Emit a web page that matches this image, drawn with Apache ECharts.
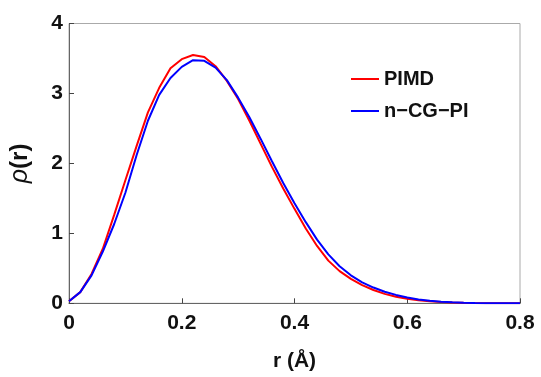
<!DOCTYPE html>
<html>
<head>
<meta charset="utf-8">
<script src="https://cdn.jsdelivr.net/npm/echarts@6/dist/echarts.min.js"></script>
<style>html,body{margin:0;padding:0;background:#fff;}#c{width:541px;height:377px;}</style>
</head>
<body>
<div id="c"></div>
<script>
const rValues = [0,0.02,0.04,0.06,0.08,0.10,0.12,0.14,0.16,0.18,0.20,0.22,0.24,0.26,0.28,0.30,0.32,0.34,0.36,0.38,0.40,0.42,0.44,0.46,0.48,0.50,0.52,0.54,0.56,0.58,0.60,0.62,0.64,0.66,0.68,0.70,0.72,0.74,0.76,0.78,0.80];
const pimd = [0.03,0.16,0.42,0.78,1.26,1.76,2.25,2.73,3.08,3.36,3.49,3.55,3.52,3.39,3.18,2.92,2.61,2.28,1.95,1.64,1.35,1.07,0.82,0.61,0.46,0.35,0.26,0.19,0.135,0.095,0.065,0.043,0.028,0.018,0.011,0.007,0.004,0.002,0.001,0.0004,0.0];
const ncgpi = [0.03,0.16,0.40,0.74,1.13,1.58,2.12,2.61,2.98,3.22,3.38,3.475,3.466,3.37,3.19,2.94,2.66,2.35,2.03,1.72,1.43,1.16,0.91,0.70,0.53,0.40,0.30,0.225,0.165,0.12,0.083,0.055,0.036,0.023,0.014,0.008,0.005,0.0025,0.0012,0.0005,0.0];
const seriesNames = ['PIMD', 'n\u2212CG\u2212PI'];
const xTicks = [0, 0.2, 0.4, 0.6, 0.8];
const yTicks = [0, 1, 2, 3, 4];

const font = 'Liberation Sans, Arial, sans-serif';
const chart = echarts.init(document.getElementById('c'), null, {renderer: 'canvas'});
chart.setOption({
  animation: false,
  backgroundColor: '#fff',
  grid: {left: 67, right: 21, top: 23.5, bottom: 73.7, show: true, borderColor: '#aaaaaa', borderWidth: 1},
  legend: {
    orient: 'vertical', left: 346, top: 64, itemWidth: 28, itemHeight: 14, itemGap: 12,
    icon: 'path://M0,6 L28,6 L28,8 L0,8 Z',
    textStyle: {fontFamily: font, fontWeight: 'bold', fontSize: 20, color: '#111'},
    data: seriesNames
  },
  xAxis: {
    type: 'value', min: 0, max: 0.8, interval: 0.2,
    name: 'r (Å)', nameLocation: 'middle', nameGap: 47,
    nameTextStyle: {fontFamily: font, fontWeight: 'bold', fontSize: 21, color: '#111'},
    axisLine: {show: true, lineStyle: {color: '#666', width: 1}},
    axisTick: {show: true, inside: true, length: 5, lineStyle: {color: '#444'}},
    axisLabel: {fontFamily: font, fontWeight: 'bold', fontSize: 21, color: '#111', margin: 9,
      formatter: v => xTicks.includes(+v.toFixed(1)) ? String(+v.toFixed(1)) : ''},
    splitLine: {show: false}
  },
  yAxis: {
    type: 'value', min: 0, max: 4, interval: 1,
    name: '{i|ρ}{b|(r)}', nameLocation: 'middle', nameGap: 36, nameRotate: 90,
    nameTextStyle: {rich: {
      i: {fontFamily: font, fontStyle: 'italic', fontSize: 25, color: '#111'},
      b: {fontFamily: font, fontWeight: 'bold', fontSize: 24, color: '#111'}
    }},
    axisLine: {show: true, lineStyle: {color: '#666', width: 1}},
    axisTick: {show: true, inside: true, length: 5, lineStyle: {color: '#444'}},
    axisLabel: {fontFamily: font, fontWeight: 'bold', fontSize: 21, color: '#111', margin: 6,
      formatter: v => yTicks.includes(v) ? String(v) : ''},
    splitLine: {show: false}
  },
  series: [
    {name: seriesNames[0], type: 'line', data: rValues.map((r, i) => [r, pimd[i]]), showSymbol: false,
     lineStyle: {color: '#ff0000', width: 2}, itemStyle: {color: '#ff0000'}},
    {name: seriesNames[1], type: 'line', data: rValues.map((r, i) => [r, ncgpi[i]]), showSymbol: false,
     lineStyle: {color: '#0000ff', width: 2}, itemStyle: {color: '#0000ff'}}
  ]
});
</script>
</body>
</html>
